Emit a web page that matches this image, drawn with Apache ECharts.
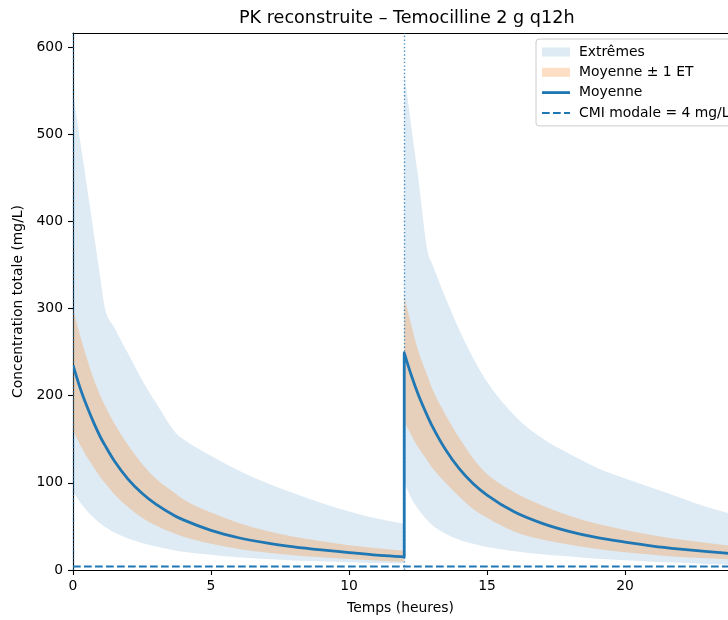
<!DOCTYPE html>
<html>
<head>
<meta charset="utf-8">
<script src="https://cdn.jsdelivr.net/npm/echarts@6/dist/echarts.min.js"></script>
<style>
html,body{margin:0;padding:0;background:#fff;}
#chart{width:728px;height:620px;}
</style>
</head>
<body>
<div id="chart"></div>
<script>
// Time points (hours); dose at 0 h and 12 h (12 appears twice: trough then peak)
const times = [0,0.25,0.5,0.75,1,1.15,1.5,2,2.5,3,3.7,4,5,6,7,8,9,10,11,12,
               12,12.25,12.5,12.85,13,13.5,14,14.5,15,16,17,18,19,20,21,22,23,24];
// Mean concentration (mg/L)
const meanConc = [235,209.5,188,169,152,143.5,125,104,88,75.5,62,57.5,45.5,37,31,26.5,23,20,17,15,
                  249,224,202,176,166,138,116,99,86,66.5,53.5,44,37,32,27.5,24,21,18.5];
// Mean + 1 SD
const sdHigh = [299,270,243,219,199,189,168,143,122,105,88,81,66,54,45,38,33,28.5,25,22,
                314,282,252,222,209,178,151,128,110,89,74,62,53,46,40,35,31,27];
// Mean - 1 SD
const sdLow = [160,144,130,118,106,100,87,72,60,51,41.5,38,30,24,20,17,14.5,12.5,11,9.5,
               170,155,141,125,118,100,84,70,60,44,35,29,24,20.5,17.5,15,13.5,12];
// Extremes (max / min)
const extHigh = [548,494,441,387,333,301,278,248,218,192,158,150,131,114,100,88,77,67,59,53,
                 570,510,452,365,352,312,275,243,216,177,151,133,117,105,94,83,72,63];
const extLow = [90,78,68,60,53,49.5,43,36,31,27,22.5,21,17.5,14.5,12.5,11,10,9,8,7.5,
                100,83,70,56.5,52,41.5,34.5,30,26.5,21.5,18,15.5,13,11.2,9.5,8.2,7,6];
const doseTimes = [0, 12, 24];
const cmiValue = 4;
const xTicks = [0, 5, 10, 15, 20];
const yTicks = [0, 100, 200, 300, 400, 500, 600];

const FONT = 'DejaVu Sans';
const BLUE = '#1f77b4';
const EXT_FILL = 'rgba(31,119,180,0.15)';
const SD_FILL = 'rgba(255,127,14,0.25)';
// visible part of the time axis (the original figure is cropped at the right edge)
const X_VISIBLE_MAX = 23.73;

const seg1 = [0, 19], seg2 = [20, 37];

// Monotone cubic (Fritsch-Carlson) tangents for pixel points with increasing x
function tangents(p) {
  const n = p.length, d = [], m = new Array(n).fill(0);
  for (let k = 0; k < n - 1; k++) d.push((p[k + 1][1] - p[k][1]) / (p[k + 1][0] - p[k][0]));
  m[0] = d[0]; m[n - 1] = d[n - 2];
  for (let k = 1; k < n - 1; k++) m[k] = (d[k - 1] * d[k] <= 0) ? 0 : (d[k - 1] + d[k]) / 2;
  for (let k = 0; k < n - 1; k++) {
    if (d[k] === 0) { m[k] = 0; m[k + 1] = 0; continue; }
    const a = m[k] / d[k], b = m[k + 1] / d[k], s = a * a + b * b;
    if (s > 9) { const t = 3 / Math.sqrt(s); m[k] = t * a * d[k]; m[k + 1] = t * b * d[k]; }
  }
  return m;
}
function fwdPath(p, move) {
  const m = tangents(p);
  let out = (move ? 'M' : 'L') + p[0][0] + ',' + p[0][1];
  for (let k = 0; k < p.length - 1; k++) {
    const h = p[k + 1][0] - p[k][0];
    out += 'C' + (p[k][0] + h / 3) + ',' + (p[k][1] + m[k] * h / 3) + ',' +
           (p[k + 1][0] - h / 3) + ',' + (p[k + 1][1] - m[k + 1] * h / 3) + ',' + p[k + 1][0] + ',' + p[k + 1][1];
  }
  return out;
}
function revPath(p, move) {
  const m = tangents(p), n = p.length;
  let out = (move ? 'M' : 'L') + p[n - 1][0] + ',' + p[n - 1][1];
  for (let k = n - 2; k >= 0; k--) {
    const h = p[k + 1][0] - p[k][0];
    out += 'C' + (p[k + 1][0] - h / 3) + ',' + (p[k + 1][1] - m[k + 1] * h / 3) + ',' +
           (p[k][0] + h / 3) + ',' + (p[k][1] + m[k] * h / 3) + ',' + p[k][0] + ',' + p[k][1];
  }
  return out;
}
function pts(api, arr, seg) {
  const r = [];
  for (let i = seg[0]; i <= seg[1]; i++) r.push(api.coord([times[i], arr[i]]));
  return r;
}
function bandRenderer(hi, lo, fill) {
  return function (params, api) {
    const d = fwdPath(pts(api, hi, seg1), true) + fwdPath(pts(api, hi, seg2), false) +
              revPath(pts(api, lo, seg2), false) + revPath(pts(api, lo, seg1), false) + 'Z';
    return { type: 'path', shape: { pathData: d }, style: { fill: fill, stroke: null } };
  };
}
function lineRenderer(arr) {
  return function (params, api) {
    const d = fwdPath(pts(api, arr, seg1), true) + fwdPath(pts(api, arr, seg2), false);
    return { type: 'path', shape: { pathData: d },
             style: { fill: null, stroke: BLUE, lineWidth: 2.8, lineJoin: 'round' } };
  };
}

const axisText = { fontFamily: FONT, fontSize: 13.9, color: '#000' };
const chart = echarts.init(document.getElementById('chart'), null, { renderer: 'canvas' });
chart.setOption({
  animation: false,
  backgroundColor: '#fff',
  textStyle: { fontFamily: FONT },
  title: {
    text: 'PK reconstruite – Temocilline 2 g q12h',
    left: 234, top: 4,
    textStyle: { fontFamily: FONT, fontSize: 17.6, fontWeight: 'normal', color: '#000' }
  },
  grid: { left: 73, right: 0, top: 33, bottom: 46, show: false, containLabel: false },
  legend: {
    orient: 'vertical', left: 536, top: 39,
    padding: [6, 12, 6, 5],
    itemWidth: 28, itemHeight: 9, itemGap: 6.3,
    backgroundColor: 'rgba(255,255,255,0.8)', borderColor: '#cccccc', borderWidth: 1, borderRadius: 3,
    textStyle: { fontFamily: FONT, fontSize: 13.9, color: '#000', lineHeight: 14, padding: [0, 0, 0, 4] },
    data: [
      { name: 'Extrêmes', icon: 'rect', itemStyle: { color: EXT_FILL } },
      { name: 'Moyenne ± 1 ET', icon: 'rect', itemStyle: { color: SD_FILL } },
      { name: 'Moyenne', icon: 'path://M0,0L28,0L28,2.8L0,2.8Z', itemStyle: { color: BLUE } },
      { name: 'CMI modale = 4 mg/L', itemStyle: { opacity: 0 } }
    ]
  },
  xAxis: [{
    type: 'value', min: 0, max: X_VISIBLE_MAX,
    name: 'Temps (heures)', nameLocation: 'middle', nameGap: 31,
    nameTextStyle: axisText,
    axisLine: { show: true, onZero: false, lineStyle: { color: '#000', width: 1.1 } },
    axisTick: { show: true, length: 5, lineStyle: { color: '#000', width: 1.1 }, customValues: xTicks },
    axisLabel: Object.assign({ margin: 9, customValues: xTicks }, axisText),
    splitLine: { show: false }
  }, {
    type: 'value', min: 0, max: X_VISIBLE_MAX, position: 'top',
    axisLine: { show: true, onZero: false, lineStyle: { color: '#000', width: 1.1 } },
    axisTick: { show: false }, axisLabel: { show: false }, splitLine: { show: false }
  }],
  yAxis: {
    type: 'value', min: 0, max: 616,
    name: 'Concentration totale (mg/L)', nameLocation: 'middle', nameGap: 44,
    nameTextStyle: axisText,
    axisLine: { show: true, onZero: false, lineStyle: { color: '#000', width: 1.1 } },
    axisTick: { show: true, length: 5, lineStyle: { color: '#000', width: 1.1 }, customValues: yTicks },
    axisLabel: Object.assign({ margin: 10, customValues: yTicks }, axisText),
    splitLine: { show: false }
  },
  series: [
    {
      name: 'Extrêmes', type: 'custom', silent: true, clip: true,
      itemStyle: { color: EXT_FILL },
      data: [[times[0], extLow[0]]],
      renderItem: bandRenderer(extHigh, extLow, EXT_FILL), z: 1
    },
    {
      name: 'Moyenne ± 1 ET', type: 'custom', silent: true, clip: true,
      itemStyle: { color: SD_FILL },
      data: [[times[0], sdLow[0]]],
      renderItem: bandRenderer(sdHigh, sdLow, SD_FILL), z: 2
    },
    {
      name: 'Moyenne', type: 'custom', silent: true, clip: true, z: 4,
      itemStyle: { color: BLUE },
      data: [[times[0], meanConc[0]]],
      renderItem: lineRenderer(meanConc)
    },
    {
      name: 'CMI modale = 4 mg/L', type: 'line', symbol: 'none', silent: true, z: 5,
      itemStyle: { color: BLUE },
      lineStyle: { color: BLUE, width: 2.1, type: [7.7, 3.3] },
      data: [[times[0], cmiValue], [times[times.length - 1], cmiValue]],
      markLine: {
        symbol: 'none', silent: true, animation: false,
        label: { show: false },
        lineStyle: { color: 'rgba(31,119,180,0.8)', width: 1.4, type: [1.4, 2.3] },
        data: doseTimes.map(t => ({ xAxis: t }))
      }
    }
  ]
});
</script>
</body>
</html>
